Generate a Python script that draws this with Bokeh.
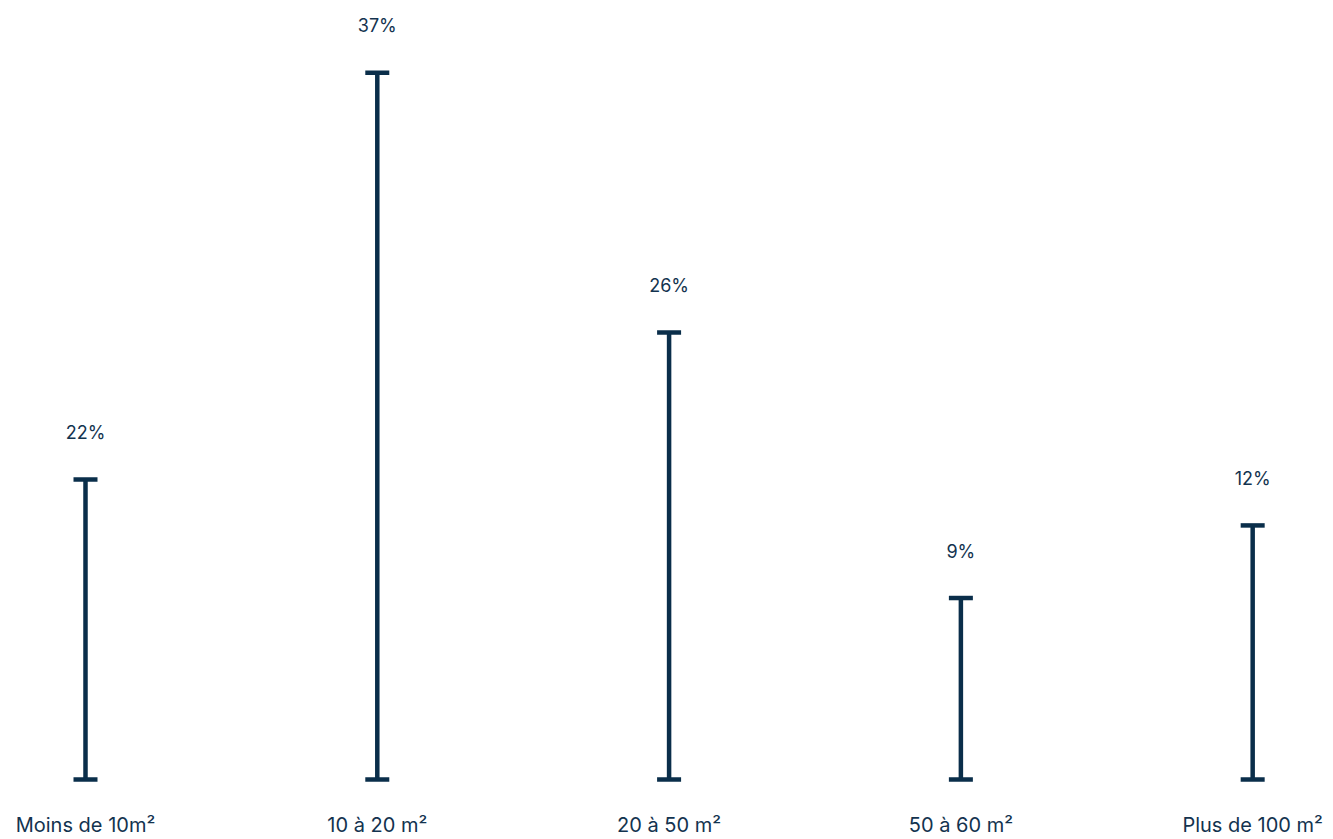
from bokeh.plotting import figure
from bokeh.models import FixedTicker, Range1d, ColumnDataSource
from bokeh.core.properties import value
from bokeh.embed import file_html
from bokeh.resources import INLINE

categories = ["Moins de 10m²", "10 à 20 m²", "20 à 50 m²", "50 à 60 m²", "Plus de 100 m²"]
pct_labels = ["22%", "37%", "26%", "9%", "12%"]
# heights of the drawn stems (37% bar = 37 units)
bar_heights = [15.7, 37.0, 23.4, 9.5, 13.3]

xs = list(range(len(categories)))
src = ColumnDataSource(dict(x=xs, zero=[0] * len(xs), h=bar_heights, lab=pct_labels))

LINE = "#0a2e4a"
TEXT = "#13334f"
FONT = "Inter"

p = figure(width=1333, height=839, output_backend="svg", toolbar_location=None,
           x_range=Range1d(-0.2913, 4.2770), y_range=Range1d(-0.681, 40.78),
           min_border_left=0, min_border_right=0, min_border_top=0, min_border_bottom=0)
p.outline_line_color = None
p.xgrid.visible = False
p.ygrid.visible = False
p.yaxis.visible = False

p.segment(x0="x", y0="zero", x1="x", y1="h", source=src, line_color=LINE, line_width=4.5)
p.scatter(x="x", y="zero", source=src, marker="dash", size=24, line_color=LINE, line_width=4.5)
p.scatter(x="x", y="h", source=src, marker="dash", size=24, line_color=LINE, line_width=4.5)
p.text(x="x", y="h", text="lab", source=src, y_offset=-47, text_align="center",
       text_baseline="middle", text_font=value(FONT), text_font_size="18px", text_color=TEXT)

ax = p.xaxis[0]
ax.ticker = FixedTicker(ticks=xs)
ax.major_label_overrides = {i: c for i, c in zip(xs, categories)}
ax.axis_line_color = None
ax.major_tick_line_color = None
ax.minor_tick_line_color = None
ax.major_tick_out = 0
ax.major_tick_in = 0
ax.major_label_standoff = 20
ax.major_label_text_font = FONT
ax.major_label_text_font_size = "20px"
ax.major_label_text_color = TEXT

open("out.html", "w").write(file_html(p, INLINE))
